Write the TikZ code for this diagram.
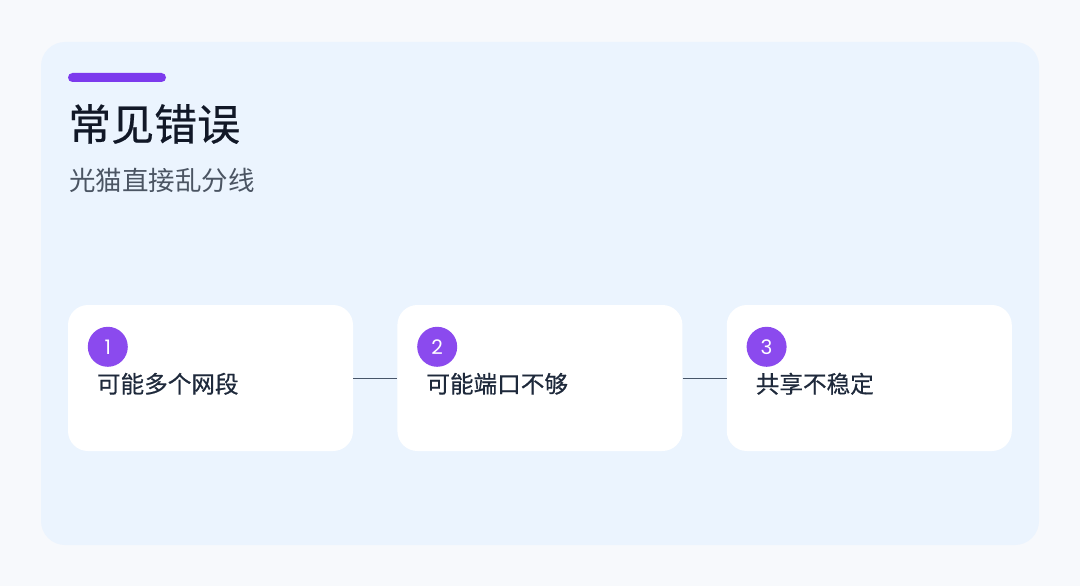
\documentclass[tikz,border=0pt]{standalone}
\usepackage{fontspec}
\setmainfont{Poppins}
\newfontfamily\cjk{Noto Sans CJK SC}
\newfontfamily\cjkmed{Noto Sans CJK SC}[FakeBold=0.5]
\usepackage{tikz}
\usetikzlibrary{positioning,calc}
\definecolor{errPage}{HTML}{F7F9FC}
\definecolor{errPanel}{HTML}{EBF4FE}
\definecolor{errAccent}{HTML}{7C3AED}
\definecolor{errNum}{HTML}{8B4AEE}
\definecolor{errTitle}{HTML}{111827}
\definecolor{errSub}{HTML}{4B5563}
\definecolor{errText}{HTML}{1E293B}
\definecolor{errLine}{HTML}{475569}
\tikzset{
  errcard/.style={fill=white,rounded corners=20pt,minimum width=285pt,minimum height=146pt,inner sep=0pt},
  errnum/.style={circle,fill=errNum,text=white,minimum size=40pt,inner sep=0pt,
                 font=\fontsize{20}{20}\selectfont},
  errtext/.style={anchor=west,inner sep=0pt,text=errText,font=\cjkmed\fontsize{23.6}{27}\selectfont},
  errlink/.style={draw=errLine,line width=1pt},
}
\begin{document}
\begin{tikzpicture}[x=1pt,y=-1pt,node distance=44pt]
  \fill[errPage] (0,0) rectangle (1080,586);
  \fill[errPanel,rounded corners=24pt] (41,42) rectangle (1039,545);
  \fill[errAccent,rounded corners=4.5pt] (68,73) rectangle (166,82);
  \node[anchor=west,inner sep=0pt,text=errTitle,font=\cjkmed\fontsize{43}{47}\selectfont] (title) at (68,124) {常见错误};
  \node[anchor=west,inner sep=0pt,text=errSub,font=\cjk\fontsize{26.5}{30}\selectfont] (sub) at (69,180) {光猫直接乱分线};

  \node[errcard] (card1) at (210.5,378) {};
  \node[errcard,right=of card1] (card2) {};
  \node[errcard,right=of card2] (card3) {};

  \node[errnum] (num1) at ($(card1.north west)+(40,42)$) {1};
  \node[errnum] (num2) at ($(card2.north west)+(40,42)$) {2};
  \node[errnum] (num3) at ($(card3.north west)+(40,42)$) {3};

  \node[errtext] (lbl1) at ($(card1.north west)+(29,79)$) {可能多个网段};
  \node[errtext] (lbl2) at ($(card2.north west)+(29,79)$) {可能端口不够};
  \node[errtext] (lbl3) at ($(card3.north west)+(29,79)$) {共享不稳定};

  \draw[errlink] (card1.east)--(card2.west);
  \draw[errlink] (card2.east)--(card3.west);
\end{tikzpicture}
\end{document}
